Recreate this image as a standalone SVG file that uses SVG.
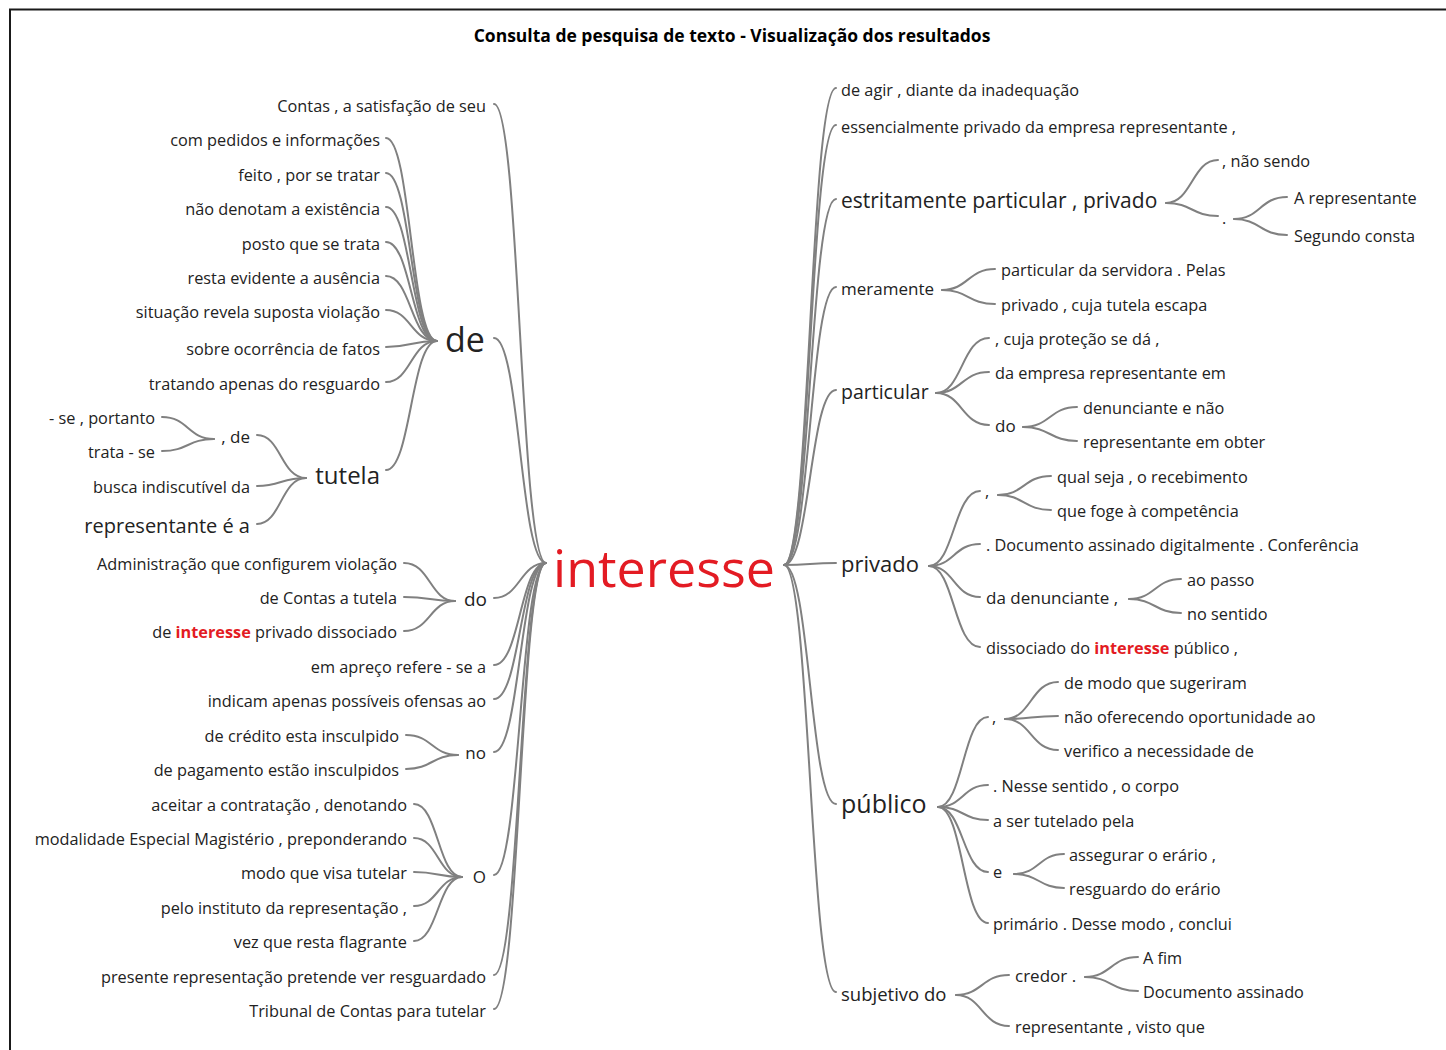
<svg xmlns="http://www.w3.org/2000/svg" width="1446" height="1050" viewBox="0 0 1446 1050">
<style>
text{font-family:"Open Sans","Noto Sans","DejaVu Sans",sans-serif;font-size:16.3px;fill:#222}
.e{text-anchor:end}
.m{text-anchor:middle}
.c path{fill:none;stroke:#808080;stroke-width:2;stroke-linecap:round}
.hl{fill:#e31b23;font-weight:bold}
</style>
<rect width="1446" height="1050" fill="#fff"/>
<path d="M9 9.5H1446M10 9V1050" stroke="#1a1a1a" stroke-width="2" fill="none"/>
<text class="m" x="732" y="42" style="font-weight:bold;font-size:17.5px;fill:#000">Consulta de pesquisa de texto - Visualização dos resultados</text>

<g class="c" id="connectors">
<!-- left main -->
<path d="M494 104C520 104 520 563 546 563"/>
<path d="M494 338C520 338 520 563 546 563"/>
<path d="M494 598C520 598 520 563 546 563"/>
<path d="M494 665C520 665 520 563 546 563"/>
<path d="M494 699C520 699 520 563 546 563"/>
<path d="M494 752C520 752 520 563 546 563"/>
<path d="M494 875C520 875 520 563 546 563"/>
<path d="M494 975C520 975 520 563 546 563"/>
<path d="M494 1009C520 1009 520 563 546 563"/>
<!-- de hub -->
<path d="M386 138C411 138 411 341 437 341"/>
<path d="M386 173C411 173 411 341 437 341"/>
<path d="M386 207C411 207 411 341 437 341"/>
<path d="M386 242C411 242 411 341 437 341"/>
<path d="M386 276C411 276 411 341 437 341"/>
<path d="M386 310C411 310 411 341 437 341"/>
<path d="M386 347C411 347 411 341 437 341"/>
<path d="M386 382C411 382 411 341 437 341"/>
<path d="M386 470C411 470 411 341 437 341"/>
<!-- tutela hub -->
<path d="M257 435C281 435 281 478 306 478"/>
<path d="M257 486C281 486 281 478 306 478"/>
<path d="M257 524C281 524 281 478 306 478"/>
<!-- , de hub -->
<path d="M162 417C188 417 188 439 214 439"/>
<path d="M162 451C188 451 188 439 214 439"/>
<!-- do hub -->
<path d="M404 563C430 563 430 601 455 601"/>
<path d="M404 597C430 597 430 601 455 601"/>
<path d="M404 631C430 631 430 601 455 601"/>
<!-- no hub -->
<path d="M406 735C432 735 432 755 458 755"/>
<path d="M406 769C432 769 432 755 458 755"/>
<!-- O hub -->
<path d="M414 804C438 804 438 877 462 877"/>
<path d="M414 838C438 838 438 877 462 877"/>
<path d="M414 872C438 872 438 877 462 877"/>
<path d="M414 906C438 906 438 877 462 877"/>
<path d="M414 941C438 941 438 877 462 877"/>
<!-- right main -->
<path d="M784 565C810 565 810 88 836 88"/>
<path d="M784 565C810 565 810 125 836 125"/>
<path d="M784 565C810 565 810 199 836 199"/>
<path d="M784 565C810 565 810 287 836 287"/>
<path d="M784 565C810 565 810 390 836 390"/>
<path d="M784 565C810 565 810 563 836 563"/>
<path d="M784 565C810 565 810 804 836 804"/>
<path d="M784 565C810 565 810 992 836 992"/>
<!-- estritamente hub -->
<path d="M1166 203C1192 203 1192 160 1218 160"/>
<path d="M1166 203C1192 203 1192 216 1218 216"/>
<path d="M1234 219C1260 219 1260 197 1287 197"/>
<path d="M1234 219C1260 219 1260 235 1287 235"/>
<!-- meramente -->
<path d="M942 290C968 290 968 269 995 269"/>
<path d="M942 290C968 290 968 304 995 304"/>
<!-- particular -->
<path d="M936 393C962 393 962 338 989 338"/>
<path d="M936 393C962 393 962 372 989 372"/>
<path d="M936 393C962 393 962 425 989 425"/>
<path d="M1023 427C1050 427 1050 407 1077 407"/>
<path d="M1023 427C1050 427 1050 441 1077 441"/>
<!-- privado -->
<path d="M929 566C954 566 954 491 980 491"/>
<path d="M929 566C954 566 954 544 980 544"/>
<path d="M929 566C954 566 954 597 980 597"/>
<path d="M929 566C954 566 954 647 980 647"/>
<path d="M998 495C1024 495 1024 476 1051 476"/>
<path d="M998 495C1024 495 1024 510 1051 510"/>
<path d="M1129 599C1155 599 1155 579 1181 579"/>
<path d="M1129 599C1155 599 1155 613 1181 613"/>
<!-- público -->
<path d="M938 807C963 807 963 717 988 717"/>
<path d="M938 807C963 807 963 785 988 785"/>
<path d="M938 807C963 807 963 820 988 820"/>
<path d="M938 807C963 807 963 872 988 872"/>
<path d="M938 807C963 807 963 923 988 923"/>
<path d="M1005 719C1031 719 1031 682 1058 682"/>
<path d="M1005 719C1031 719 1031 716 1058 716"/>
<path d="M1005 719C1031 719 1031 750 1058 750"/>
<path d="M1014 874C1039 874 1039 854 1064 854"/>
<path d="M1014 874C1039 874 1039 888 1064 888"/>
<!-- subjetivo -->
<path d="M956 995C982 995 982 975 1009 975"/>
<path d="M956 995C982 995 982 1026 1009 1026"/>
<path d="M1085 977C1111 977 1111 957 1138 957"/>
<path d="M1085 977C1111 977 1111 991 1138 991"/>
</g>

<g id="n-root"><text x="553" y="587" style="font-size:52px;fill:#e31b23">interesse</text></g>

<!-- left side -->
<g id="n-l-contas"><text class="e" x="486" y="112">Contas , a satisfação de seu</text></g>
<g id="n-l-de"><text x="445" y="352" style="font-size:34px">de</text></g>
<g id="n-l-de-1"><text class="e" x="380" y="146">com pedidos e informações</text></g>
<g id="n-l-de-2"><text class="e" x="380" y="181">feito , por se tratar</text></g>
<g id="n-l-de-3"><text class="e" x="380" y="215">não denotam a existência</text></g>
<g id="n-l-de-4"><text class="e" x="380" y="250">posto que se trata</text></g>
<g id="n-l-de-5"><text class="e" x="380" y="284">resta evidente a ausência</text></g>
<g id="n-l-de-6"><text class="e" x="380" y="318">situação revela suposta violação</text></g>
<g id="n-l-de-7"><text class="e" x="380" y="355">sobre ocorrência de fatos</text></g>
<g id="n-l-de-8"><text class="e" x="380" y="390">tratando apenas do resguardo</text></g>
<g id="n-l-tutela"><text class="e" x="380" y="484" style="font-size:24px">tutela</text></g>
<g id="n-l-virg-de"><text class="e" x="250" y="443" style="font-size:17px">, de</text></g>
<g id="n-l-sep"><text class="e" x="155" y="424">- se , portanto</text></g>
<g id="n-l-trata"><text class="e" x="155" y="458">trata - se</text></g>
<g id="n-l-busca"><text class="e" x="250" y="493">busca indiscutível da</text></g>
<g id="n-l-repr"><text class="e" x="250" y="533" style="font-size:20px">representante é a</text></g>
<g id="n-l-do"><text class="e" x="487" y="606" style="font-size:19px">do</text></g>
<g id="n-l-do-1"><text class="e" x="397" y="570">Administração que configurem violação</text></g>
<g id="n-l-do-2"><text class="e" x="397" y="604">de Contas a tutela</text></g>
<g id="n-l-do-3"><text class="e" x="397" y="638">de <tspan class="hl">interesse</tspan> privado dissociado</text></g>
<g id="n-l-apreco"><text class="e" x="486" y="673">em apreço refere - se a</text></g>
<g id="n-l-indicam"><text class="e" x="486" y="707">indicam apenas possíveis ofensas ao</text></g>
<g id="n-l-no"><text class="e" x="486" y="759" style="font-size:17px">no</text></g>
<g id="n-l-no-1"><text class="e" x="399" y="742">de crédito esta insculpido</text></g>
<g id="n-l-no-2"><text class="e" x="399" y="776">de pagamento estão insculpidos</text></g>
<g id="n-l-o"><text class="e" x="486" y="883" style="font-size:17px">O</text></g>
<g id="n-l-o-1"><text class="e" x="407" y="811">aceitar a contratação , denotando</text></g>
<g id="n-l-o-2"><text class="e" x="407" y="845">modalidade Especial Magistério , preponderando</text></g>
<g id="n-l-o-3"><text class="e" x="407" y="879">modo que visa tutelar</text></g>
<g id="n-l-o-4"><text class="e" x="407" y="914">pelo instituto da representação ,</text></g>
<g id="n-l-o-5"><text class="e" x="407" y="948">vez que resta flagrante</text></g>
<g id="n-l-presente"><text class="e" x="486" y="983">presente representação pretende ver resguardado</text></g>
<g id="n-l-tribunal"><text class="e" x="486" y="1017">Tribunal de Contas para tutelar</text></g>

<!-- right side -->
<g id="n-r-agir"><text x="841" y="96">de agir , diante da inadequação</text></g>
<g id="n-r-essenc"><text x="841" y="133">essencialmente privado da empresa representante ,</text></g>
<g id="n-r-estrit"><text x="841" y="208" style="font-size:21px">estritamente particular , privado</text></g>
<g id="n-r-naosendo"><text x="1222" y="167">, não sendo</text></g>
<g id="n-r-ponto"><text x="1222" y="224">.</text></g>
<g id="n-r-arep"><text x="1294" y="204">A representante</text></g>
<g id="n-r-segundo"><text x="1294" y="242">Segundo consta</text></g>
<g id="n-r-meramente"><text x="841" y="295" style="font-size:17px">meramente</text></g>
<g id="n-r-mer-1"><text x="1001" y="276">particular da servidora . Pelas</text></g>
<g id="n-r-mer-2"><text x="1001" y="311">privado , cuja tutela escapa</text></g>
<g id="n-r-particular"><text x="841" y="399" style="font-size:19.5px">particular</text></g>
<g id="n-r-par-1"><text x="995" y="345">, cuja proteção se dá ,</text></g>
<g id="n-r-par-2"><text x="995" y="379">da empresa representante em</text></g>
<g id="n-r-par-do"><text x="995" y="432" style="font-size:17px">do</text></g>
<g id="n-r-do-1"><text x="1083" y="414">denunciante e não</text></g>
<g id="n-r-do-2"><text x="1083" y="448">representante em obter</text></g>
<g id="n-r-privado"><text x="841" y="572" style="font-size:22px">privado</text></g>
<g id="n-r-priv-virg"><text x="985" y="497">,</text></g>
<g id="n-r-qual"><text x="1057" y="483">qual seja , o recebimento</text></g>
<g id="n-r-foge"><text x="1057" y="517">que foge à competência</text></g>
<g id="n-r-doc"><text x="986" y="551">. Documento assinado digitalmente . Conferência</text></g>
<g id="n-r-denunc"><text x="986" y="604" style="font-size:17px">da denunciante ,</text></g>
<g id="n-r-passo"><text x="1187" y="586">ao passo</text></g>
<g id="n-r-sentido"><text x="1187" y="620">no sentido</text></g>
<g id="n-r-dissoc"><text x="986" y="654">dissociado do <tspan class="hl">interesse</tspan> público ,</text></g>
<g id="n-r-publico"><text x="841" y="813" style="font-size:25px">público</text></g>
<g id="n-r-pub-virg"><text x="992" y="723">,</text></g>
<g id="n-r-pv-1"><text x="1064" y="689">de modo que sugeriram</text></g>
<g id="n-r-pv-2"><text x="1064" y="723">não oferecendo oportunidade ao</text></g>
<g id="n-r-pv-3"><text x="1064" y="757">verifico a necessidade de</text></g>
<g id="n-r-nesse"><text x="993" y="792">. Nesse sentido , o corpo</text></g>
<g id="n-r-aser"><text x="993" y="827">a ser tutelado pela</text></g>
<g id="n-r-e"><text x="993" y="878">e</text></g>
<g id="n-r-e-1"><text x="1069" y="861">assegurar o erário ,</text></g>
<g id="n-r-e-2"><text x="1069" y="895">resguardo do erário</text></g>
<g id="n-r-primario"><text x="993" y="930">primário . Desse modo , conclui</text></g>
<g id="n-r-subjetivo"><text x="841" y="1001" style="font-size:18.5px">subjetivo do</text></g>
<g id="n-r-credor"><text x="1015" y="982" style="font-size:17px">credor .</text></g>
<g id="n-r-afim"><text x="1143" y="964">A fim</text></g>
<g id="n-r-docass"><text x="1143" y="998">Documento assinado</text></g>
<g id="n-r-visto"><text x="1015" y="1033">representante , visto que</text></g>
</svg>
